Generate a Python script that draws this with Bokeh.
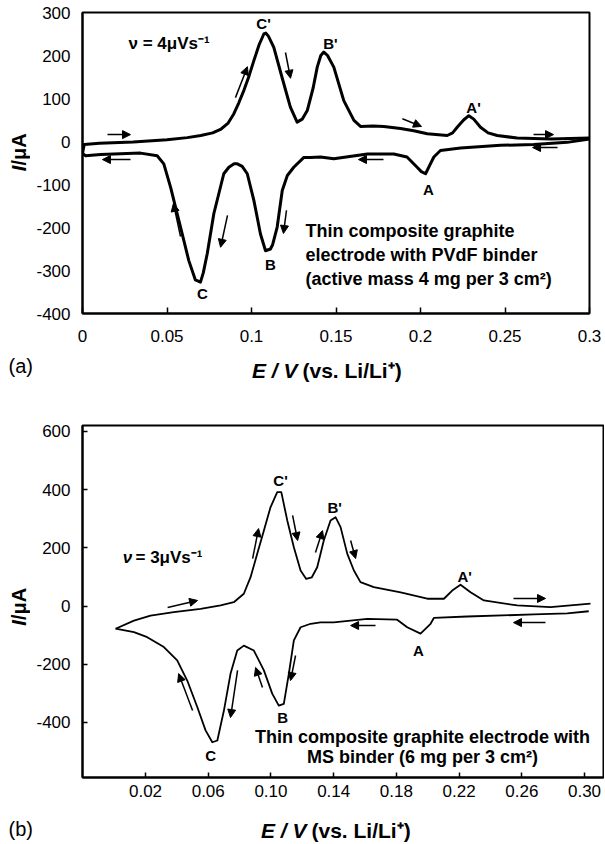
import math
from bokeh.plotting import figure
from bokeh.models import Range1d, FixedTicker, Label, Arrow, NormalHead
from bokeh.layouts import column, row
from bokeh.embed import file_html
from bokeh.resources import INLINE

FONT = "Liberation Sans"

# ---------------- Panel (a) data ----------------
E_a_ox = [0.000, 0.001, 0.010, 0.030, 0.050, 0.062, 0.070, 0.077, 0.082, 0.086, 0.0895, 0.0925,
          0.0955, 0.0985, 0.1014, 0.1045, 0.1073, 0.1085, 0.1100, 0.1132, 0.118, 0.123, 0.127,
          0.130, 0.133, 0.1365, 0.1389, 0.1410, 0.1428, 0.1450, 0.1487, 0.1546, 0.1606, 0.1645,
          0.172, 0.1783, 0.1882, 0.196, 0.204, 0.2158, 0.219, 0.2217, 0.2255, 0.2286, 0.2315,
          0.2355, 0.2400, 0.2454, 0.2572, 0.277, 0.300]
I_a_ox = [-28, -7, -4, -1, 4, 9, 14, 20, 29, 42, 64, 90, 119, 152, 188, 225, 250, 252, 245, 219,
          150, 80, 45, 52, 72, 125, 173, 200, 208, 200, 173, 95, 49, 35, 36, 35, 30, 25, 18, 14,
          20, 33, 50, 60, 52, 33, 20, 14, 8, 6, 8]
E_a_red = [0.300, 0.2868, 0.267, 0.2473, 0.2237, 0.2118, 0.2079, 0.2055, 0.203, 0.2005, 0.198,
           0.192, 0.1842, 0.1686, 0.1487, 0.1408, 0.135, 0.131, 0.125, 0.1212, 0.1182, 0.1152,
           0.1125, 0.1112, 0.1083, 0.1053, 0.1014, 0.0975, 0.0945, 0.0916, 0.0897, 0.0866,
           0.0836, 0.0777, 0.0738, 0.0715, 0.0698, 0.0668, 0.0629, 0.058, 0.0521, 0.0481,
           0.0442, 0.0343, 0.0107, 0.0018, 0.000]
I_a_red = [6, -2, -7, -9, -15, -21, -36, -55, -75, -70, -60, -36, -29, -29, -40, -36, -37, -37,
           -60, -79, -114, -199, -240, -250, -254, -215, -137, -75, -58, -52, -52, -60, -75,
           -168, -261, -305, -327, -322, -277, -199, -106, -52, -33, -27, -30, -33, -28]
xticks_a = [0, 0.05, 0.1, 0.15, 0.2, 0.25, 0.3]
xlabels_a = ["0", "0.05", "0.1", "0.15", "0.2", "0.25", "0.3"]
yticks_a = [-400, -300, -200, -100, 0, 100, 200, 300]
ylabels_a = ["-400", "-300", "-200", "-100", "0", "100", "200", "300"]

# ---------------- Panel (b) data ----------------
E_b_ox = [0.0009, 0.0126, 0.0232, 0.038, 0.0551, 0.0679, 0.0763, 0.0827, 0.087, 0.0912, 0.0955,
          0.0997, 0.104, 0.1066, 0.1104, 0.1146, 0.1189, 0.1225, 0.126, 0.1295, 0.1337, 0.138,
          0.1412, 0.1444, 0.1487, 0.1529, 0.1571, 0.1656, 0.1827, 0.1997, 0.2103, 0.2156,
          0.2209, 0.2273, 0.2358, 0.2571, 0.2783, 0.3038]
I_b_ox = [-78, -50, -33, -21, -10, 2, 13, 42, 99, 179, 259, 339, 391, 391, 294, 202, 122, 93,
          98, 133, 225, 294, 305, 271, 179, 122, 82, 65, 47, 25, 25, 53, 73, 47, 19, 2, -4, 8]
E_b_red = [0.3027, 0.289, 0.2677, 0.2252, 0.2039, 0.2018, 0.1954, 0.1869, 0.1805, 0.1614, 0.1401,
           0.1316, 0.1253, 0.1189, 0.1146, 0.1114, 0.1082, 0.105, 0.1008, 0.0955, 0.0891,
           0.0827, 0.0785, 0.0742, 0.07, 0.0658, 0.0626, 0.0583, 0.053, 0.0466, 0.0402,
           0.0317, 0.0211, 0.0126, 0.0009]
I_b_red = [-18, -25, -29, -36, -41, -61, -95, -73, -47, -44, -56, -56, -61, -73, -118, -233,
           -336, -342, -301, -221, -153, -136, -153, -233, -359, -462, -468, -427, -347, -256,
           -187, -141, -107, -90, -78]
xticks_b = [0.02, 0.06, 0.10, 0.14, 0.18, 0.22, 0.26, 0.30]
xlabels_b = ["0.02", "0.06", "0.10", "0.14", "0.18", "0.22", "0.26", "0.30"]
yticks_b = [-400, -200, 0, 200, 400, 600]
ylabels_b = ["-400", "-200", "0", "200", "400", "600"]


def base_fig(w, h, xr, yr, borders):
    l, r, t, b = borders
    p = figure(width=w, height=h, x_range=Range1d(*xr), y_range=Range1d(*yr),
               output_backend="svg", toolbar_location=None,
               min_border_left=l, min_border_right=r, min_border_top=t, min_border_bottom=b)
    p.xgrid.visible = False
    p.ygrid.visible = False
    p.background_fill_color = "white"
    p.border_fill_color = "white"
    p.outline_line_color = "black"
    p.outline_line_width = 2
    p.outline_line_alpha = 1
    for ax in (p.xaxis[0], p.yaxis[0]):
        ax.axis_line_color = "black"
        ax.axis_line_width = 2
        ax.major_tick_line_color = "black"
        ax.major_tick_line_width = 1.5
        ax.minor_tick_line_color = None
        ax.major_tick_out = 0
        ax.major_label_text_font = FONT
        ax.major_label_text_font_size = "17px"
        ax.major_label_text_color = "black"
    return p


def caption_fig(w, h):
    # helper canvas whose data units are pixels (y downwards) for the outer titles
    c = figure(width=w, height=h, x_range=Range1d(0, w), y_range=Range1d(h, 0),
               output_backend="svg", toolbar_location=None,
               x_axis_location=None, y_axis_location=None, min_border=0)
    c.grid.visible = False
    c.outline_line_color = None
    c.background_fill_color = "white"
    c.border_fill_color = "white"
    return c


def lab(p, x, y, text, size, style="bold", align="left", baseline="middle", angle=0):
    p.add_layout(Label(x=x, y=y, text=text, text_font=FONT, text_font_size=size,
                       text_font_style=style, text_align=align, text_baseline=baseline,
                       text_color="black", angle=angle))


def arrows(p, lst, lw=1.5, size=8):
    for (x0, y0, x1, y1) in lst:
        p.add_layout(Arrow(end=NormalHead(size=size, fill_color="black", line_color="black",
                                          line_width=1),
                           x_start=x0, y_start=y0, x_end=x1, y_end=y1,
                           line_color="black", line_width=lw))


# ---------------- Panel (a) ----------------
pa = base_fig(574, 350, (0, 0.3), (-400, 300), (52, 15, 12, 37))
pa.xaxis.ticker = FixedTicker(ticks=xticks_a)
pa.xaxis.major_label_overrides = dict(zip(xticks_a, xlabels_a))
pa.yaxis.ticker = FixedTicker(ticks=yticks_a)
pa.yaxis.major_label_overrides = dict(zip(yticks_a, ylabels_a))
pa.xaxis.major_tick_in = 6
pa.yaxis.major_tick_in = 0
pa.xaxis.major_label_standoff = 16
pa.yaxis.major_label_standoff = 12

pa.line(E_a_ox, I_a_ox, line_color="black", line_width=3, line_join="round")
pa.line(E_a_red, I_a_red, line_color="black", line_width=3, line_join="round")

lab(pa, 0.0272, 228, "ν = 4μVs⁻¹", "17px")
lab(pa, 0.1071, 274, "C'", "15px", align="center")
lab(pa, 0.1467, 228, "B'", "15px", align="center")
lab(pa, 0.2314, 79, "A'", "15px", align="center")
lab(pa, 0.0710, -353, "C", "15px", align="center")
lab(pa, 0.1112, -286, "B", "15px", align="center")
lab(pa, 0.2047, -112, "A", "15px", align="center")
lab(pa, 0.132, -207, "Thin composite graphite", "18px")
lab(pa, 0.132, -264, "electrode with PVdF binder", "18px")
lab(pa, 0.132, -319, "(active mass 4 mg per 3 cm²)", "18px")

arrows(pa, [
    (0.0148, 16, 0.0284, 16),
    (0.0284, -42, 0.0118, -42),
    (0.0905, 102, 0.0976, 174),
    (0.1201, 207, 0.1231, 147),
    (0.0580, -221, 0.0538, -144),
    (0.0858, -172, 0.0817, -246),
    (0.1207, -160, 0.1189, -214),
    (0.1893, 53, 0.2006, 35),
    (0.2669, 16, 0.2787, 16),
    (0.2811, -14, 0.2663, -14),
    (0.1781, -42, 0.1633, -42),
])

ya = caption_fig(30, 350)
lab(ya, 18, 178, "I", "20px", style="bold italic", align="right", angle=math.pi / 2)
lab(ya, 18, 178, "/μA", "20px", style="bold", align="left", angle=math.pi / 2)

xa = caption_fig(604, 62)
lab(xa, 8, 15, "(a)", "20px", style="normal")
lab(xa, 297, 20, "E / V", "21px", style="bold italic", align="right")
lab(xa, 302, 20, "(vs. Li/Li⁺)", "21px", align="left")

# ---------------- Panel (b) ----------------
pb = base_fig(574, 398, (-0.0202, 0.3121), (-589, 620), (52, 1, 13, 33))
pb.xaxis.ticker = FixedTicker(ticks=xticks_b)
pb.xaxis.major_label_overrides = dict(zip(xticks_b, xlabels_b))
pb.yaxis.ticker = FixedTicker(ticks=yticks_b)
pb.yaxis.major_label_overrides = dict(zip(yticks_b, ylabels_b))
pb.xaxis.major_tick_in = 5
pb.yaxis.major_tick_in = 5
pb.xaxis.major_label_standoff = 7
pb.yaxis.major_label_standoff = 12

pb.line(E_b_ox, I_b_ox, line_color="black", line_width=1.8, line_join="round")
pb.line(E_b_red, I_b_red, line_color="black", line_width=1.8, line_join="round")

lab(pb, 0.0054, 166, "ν", "17px", style="bold italic")
lab(pb, 0.0136, 166, "= 3μVs⁻¹", "17px")
lab(pb, 0.1061, 431, "C'", "15px", align="center")
lab(pb, 0.1406, 338, "B'", "15px", align="center")
lab(pb, 0.2235, 101, "A'", "15px", align="center")
lab(pb, 0.1941, -153, "A", "15px", align="center")
lab(pb, 0.1074, -383, "B", "15px", align="center")
lab(pb, 0.0615, -513, "C", "15px", align="center")
lab(pb, 0.1967, -451, "Thin composite graphite electrode with", "18px", align="center")
lab(pb, 0.1967, -518, "MS binder (6 mg per 3 cm²)", "18px", align="center")

arrows(pb, [
    (0.0341, -5, 0.0532, 19),
    (0.0883, 163, 0.0921, 266),
    (0.1138, 311, 0.1170, 225),
    (0.1284, 184, 0.1329, 259),
    (0.1508, 225, 0.1540, 163),
    (0.2547, 26, 0.2751, 26),
    (0.2751, -57, 0.2547, -57),
    (0.1667, -67, 0.1508, -67),
    (0.1157, -170, 0.1125, -256),
    (0.0946, -280, 0.0902, -211),
    (0.0787, -221, 0.0742, -383),
    (0.0500, -359, 0.0411, -232),
])

yb = caption_fig(30, 398)
lab(yb, 18, 220, "I", "20px", style="bold italic", align="right", angle=math.pi / 2)
lab(yb, 18, 220, "/μA", "20px", style="bold", align="left", angle=math.pi / 2)

xb = caption_fig(604, 33)
lab(xb, 8, 18, "(b)", "20px", style="normal")
lab(xb, 306, 20, "E / V", "21px", style="bold italic", align="right")
lab(xb, 311, 20, "(vs. Li/Li⁺)", "21px", align="left")

layout = column(row(ya, pa, spacing=0), xa, row(yb, pb, spacing=0), xb, spacing=0)
open("out.html", "w").write(file_html(layout, INLINE))
